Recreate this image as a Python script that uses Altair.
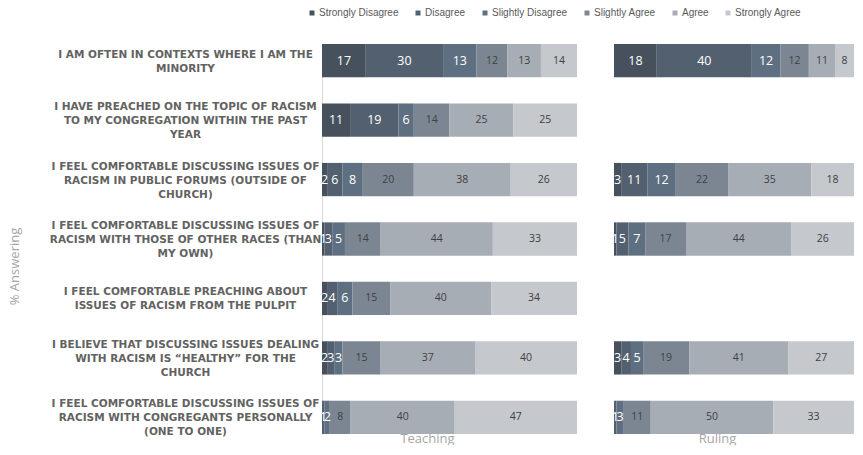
import altair as alt
import pandas as pd

questions = [
    "I AM OFTEN IN CONTEXTS WHERE I AM THE|MINORITY",
    "I HAVE PREACHED ON THE TOPIC OF RACISM|TO MY CONGREGATION WITHIN THE PAST|YEAR",
    "I FEEL COMFORTABLE DISCUSSING ISSUES OF|RACISM IN PUBLIC FORUMS (OUTSIDE OF|CHURCH)",
    "I FEEL COMFORTABLE DISCUSSING ISSUES OF|RACISM WITH THOSE OF OTHER RACES (THAN|MY OWN)",
    "I FEEL COMFORTABLE PREACHING ABOUT|ISSUES OF RACISM FROM THE PULPIT",
    "I BELIEVE THAT DISCUSSING ISSUES DEALING|WITH RACISM IS \u201cHEALTHY\u201d FOR THE|CHURCH",
    "I FEEL COMFORTABLE DISCUSSING ISSUES OF|RACISM WITH CONGREGANTS PERSONALLY|(ONE TO ONE)",
]
responses = ["Strongly Disagree", "Disagree", "Slightly Disagree",
             "Slightly Agree", "Agree", "Strongly Agree"]
colors = ["#46515d", "#536070", "#5f6f82", "#7c8693", "#a7adb5", "#c5c8cc"]

# rows: questions in order; columns: responses in order (None = no data)
teaching = [
    [17, 30, 13, 12, 13, 14],
    [11, 19, 6, 14, 25, 25],
    [2, 6, 8, 20, 38, 26],
    [1, 3, 5, 14, 44, 33],
    [2, 4, 6, 15, 40, 34],
    [2, 3, 3, 15, 37, 40],
    [0, 1, 2, 8, 40, 47],
]
ruling = [
    [18, 40, 12, 12, 11, 8],
    None,
    [3, 11, 12, 22, 35, 18],
    [1, 5, 7, 17, 44, 26],
    None,
    [3, 4, 5, 19, 41, 27],
    [0, 1, 3, 11, 50, 33],
]

rows = []
for panel_name, table in [("Teaching", teaching), ("Ruling", ruling)]:
    for q, vals in zip(questions, table):
        if vals is None:
            continue
        for i, (r, v) in enumerate(zip(responses, vals)):
            rows.append({"panel": panel_name, "question": q, "response": r,
                         "order": i, "value": v})
df = pd.DataFrame(rows)

LABEL_FONT = "DejaVu Sans"
TITLE_FONT = "Open Sans"
PLOT_H = 390


def make_panel(name, width, first, title_x):
    base = alt.Chart(df).transform_filter(
        alt.datum.panel == name
    ).transform_stack(
        stack="value", groupby=["question"], sort=[alt.SortField("order")],
        as_=["x0", "x1"], offset="normalize"
    ).transform_calculate(mid="(datum.x0 + datum.x1) / 2")

    if first:
        yaxis = alt.Axis(
            title="% Answering", titleColor="#a6a6a6", titleFont=TITLE_FONT,
            titleFontSize=13, titleFontWeight="normal", titleX=-301,
            titleY=222,
            labelExpr="split(datum.label, '|')", labelAlign="center",
            labelBaseline="middle", labelPadding=137, labelLimit=0,
            labelOffset=alt.condition("length(split(datum.label, '|')) == 2",
                                      alt.value(-6), alt.value(-13)),
            labelFont=LABEL_FONT, labelFontSize=10.5, labelFontWeight="bold",
            labelColor="#626262", labelLineHeight=14,
            ticks=False, domain=True, domainColor="#d9d9d9", grid=False,
        )
    else:
        yaxis = None

    xaxis = alt.Axis(
        title=name, titleColor="#a6a6a6", titleFont=TITLE_FONT, titleFontSize=13,
        titleFontWeight="normal", titleX=title_x, titleAlign="center",
        titleBaseline="alphabetic", titleY=8, titlePadding=0,
        labels=False, ticks=False, domain=False, grid=False,
    )

    y = alt.Y("question:N", scale=alt.Scale(domain=questions, paddingInner=0.44,
                                            paddingOuter=0), axis=yaxis)

    bars = base.mark_bar().encode(
        x=alt.X("x0:Q", scale=alt.Scale(domain=[0, 1], nice=False, zero=True),
                axis=xaxis),
        x2="x1:Q",
        y=y,
        color=alt.Color(
            "response:N", scale=alt.Scale(domain=responses, range=colors),
            legend=alt.Legend(
                title=None, orient="none", legendX=-15, legendY=-36,
                direction="horizontal", symbolType="square", symbolSize=25,
                symbolStrokeWidth=0, labelFont="Liberation Sans",
                labelFontSize=10, labelColor="#595959", columnPadding=14,
                labelOffset=2, gridAlign="none",
            ),
        ),
    )

    labels = base.transform_filter(alt.datum.value > 0).mark_text(
        font=TITLE_FONT, baseline="middle", align="center"
    ).encode(
        x="mid:Q",
        y=y,
        text="value:Q",
        color=alt.condition("datum.order < 3", alt.value("#ffffff"),
                            alt.value("#404040")),
        size=alt.condition("datum.order < 3", alt.value(12.5), alt.value(10.5)),
    )

    return alt.layer(bars, labels).properties(width=width, height=PLOT_H)


chart = alt.hconcat(
    make_panel("Teaching", 255, True, 105),
    make_panel("Ruling", 240, False, 103),
    spacing=34,
).properties(
    padding={"left": 0, "top": 0, "right": 0, "bottom": 0},
    background="white",
).configure_view(stroke=None)

chart.save("out.html", embed_options={"renderer": "svg", "actions": False})
